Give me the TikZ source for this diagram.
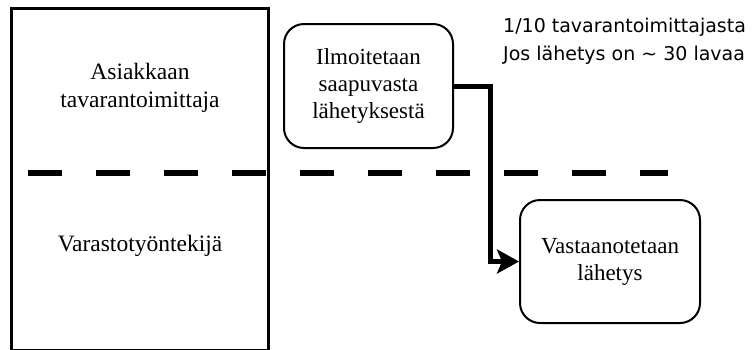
\documentclass[tikz,border=0pt]{standalone}
\usepackage{fontspec}
\setmainfont{Liberation Serif}
\newfontfamily\notefont{DejaVu Sans}
\usetikzlibrary{arrows.meta}
\begin{document}
\begin{tikzpicture}[x=1pt,y=-1pt,
  lanetext/.style={font=\fontsize{23.5}{27.5}\selectfont, align=center, inner sep=0},
  process/.style={draw, line width=2, rounded corners=20, align=center,
    font=\fontsize{23}{27}\selectfont, inner sep=0},
  flow/.style={line width=5, -{Stealth[length=22,width=24,inset=5]}},
  note/.style={font=\notefont\fontsize{19}{28}\selectfont, inner sep=0, anchor=base west}]
\useasboundingbox (0,0) rectangle (755,349);

% swimlane frame and separator
\draw[line width=3] (11.5,8.5) rectangle (268.5,350);
\draw[line width=5.5, dash pattern=on 34 off 34] (28,173) -- (668,173);

% lane labels
\node[lanetext] (lane1) at (140,88) {Asiakkaan\\tavarantoimittaja};
\node[lanetext] (lane2) at (140,246) {Varastotyöntekijä};

% process steps
\node[process, minimum width=169, minimum height=124] (notify) at (368.5,86)
  {Ilmoitetaan\\saapuvasta\\lähetyksestä};
\node[process, minimum width=180, minimum height=123] (receive) at (610,261.5)
  {Vastaanotetaan\\lähetys};

% flow between steps
\draw[flow] (notify.east) -- ++(36,0) |- (receive.west);

% side notes
\node[note] (n1) at (503,32) {1/10 tavarantoimittajasta};
\node[note] (n2) at (503,60) {Jos lähetys on \textasciitilde{} 30 lavaa};
\end{tikzpicture}
\end{document}
